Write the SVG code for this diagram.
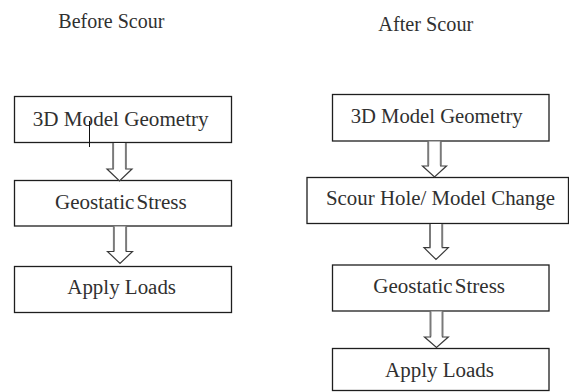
<svg xmlns="http://www.w3.org/2000/svg" width="569" height="392" viewBox="0 0 569 392">
  <style>
    .box { fill: #ffffff; stroke: #1e1e1e; stroke-width: 1.3; }
    .lbl { font-family: "Liberation Serif", "DejaVu Serif", "Times New Roman", serif; font-size: 20px; fill: #303030; }
    .arrow { fill: #ffffff; stroke: #3a3a3a; stroke-width: 1.2; stroke-linejoin: miter; }
    .shaft { fill: none; stroke: #7a7a7a; stroke-width: 1.8; }
  </style>
  <rect width="569" height="392" fill="#ffffff"/>

  <!-- column headings -->
  <text class="lbl" x="58.3" y="28.3" textLength="106" lengthAdjust="spacingAndGlyphs">Before Scour</text>
  <text class="lbl" x="378.3" y="30.5" textLength="95" lengthAdjust="spacingAndGlyphs">After Scour</text>

  <!-- left workflow -->
  <g id="before-geometry">
    <rect class="box" x="14.5" y="96.5" width="217" height="46"/>
    <text class="lbl" x="32.7" y="126" textLength="176" lengthAdjust="spacingAndGlyphs">3D Model Geometry</text>
    <line x1="89.5" y1="121" x2="89.5" y2="147" stroke="#111" stroke-width="1"/>
  </g>
  <g id="before-geostatic">
    <rect class="box" x="14.5" y="180.5" width="217" height="45.5"/>
    <text class="lbl" x="55" y="209.3" textLength="131.7" lengthAdjust="spacingAndGlyphs" word-spacing="-3">Geostatic Stress</text>
  </g>
  <g id="before-loads">
    <rect class="box" x="14.5" y="266.5" width="217" height="46"/>
    <text class="lbl" x="67.3" y="294.3" textLength="108.7" lengthAdjust="spacingAndGlyphs">Apply Loads</text>
  </g>

  <!-- right workflow -->
  <g id="after-geometry">
    <rect class="box" x="332.5" y="94.5" width="216.5" height="46.5"/>
    <text class="lbl" x="350.7" y="123.3" textLength="172" lengthAdjust="spacingAndGlyphs">3D Model Geometry</text>
  </g>
  <g id="after-scour-hole">
    <rect class="box" x="307" y="177.5" width="261.5" height="46"/>
    <text class="lbl" x="326" y="205" textLength="229" lengthAdjust="spacingAndGlyphs">Scour Hole/ Model Change</text>
  </g>
  <g id="after-geostatic">
    <rect class="box" x="332.5" y="265" width="216.5" height="46"/>
    <text class="lbl" x="373.3" y="293.3" textLength="131.7" lengthAdjust="spacingAndGlyphs" word-spacing="-3">Geostatic Stress</text>
  </g>
  <g id="after-loads">
    <rect class="box" x="332.5" y="348.5" width="216.5" height="42"/>
    <text class="lbl" x="385" y="376.7" textLength="109" lengthAdjust="spacingAndGlyphs">Apply Loads</text>
  </g>

  <!-- hollow block arrows between steps -->
  <g id="connectors">
    <path class="arrow" d="M113.2,143 V169 H107 L119.5,181 L132,169 H125.8 V143"/>
    <path class="shaft" d="M113.2,143 V168.5 M125.8,143 V168.5"/>

    <path class="arrow" d="M113.8,226.5 V251.5 H107.5 L120,263.5 L132.5,251.5 H126.2 V226.5"/>
    <path class="shaft" d="M113.8,226.5 V251 M126.2,226.5 V251"/>

    <path class="arrow" d="M428.3,141.5 V166 H422.5 L434.5,177 L446.5,166 H440.7 V141.5"/>
    <path class="shaft" d="M428.3,141.5 V165.5 M440.7,141.5 V165.5"/>

    <path class="arrow" d="M430,224 V247.7 H424 L436,259.5 L448.3,247.7 H442.3 V224"/>
    <path class="shaft" d="M430,224 V247.2 M442.3,224 V247.2"/>

    <path class="arrow" d="M430.5,311.5 V337 H424.5 L436.5,347.5 L448.3,337 H442.5 V311.5"/>
    <path class="shaft" d="M430.5,311.5 V336.5 M442.5,311.5 V336.5"/>
  </g>
</svg>
